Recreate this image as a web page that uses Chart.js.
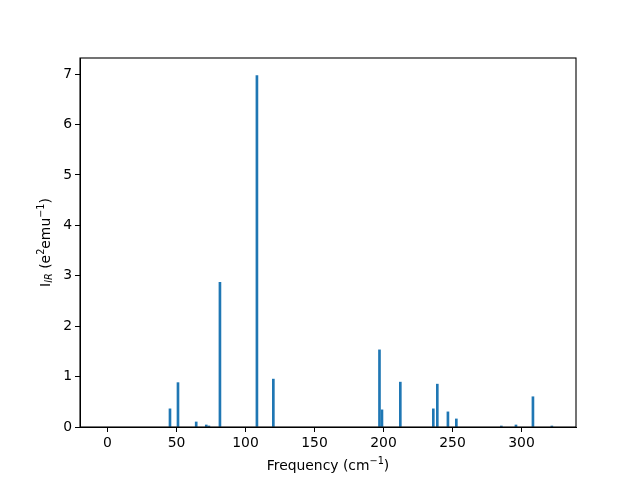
<!DOCTYPE html>
<html>
<head>
<meta charset="utf-8">
<script src="https://cdn.jsdelivr.net/npm/chart.js@4/dist/chart.umd.min.js"></script>
<style>
html,body{margin:0;padding:0;background:#fff;}
#wrap{width:640px;height:480px;}
</style>
</head>
<body>
<div id="wrap"><canvas id="c" width="640" height="480"></canvas></div>
<script>
const frequencies = [45.3, 51.1, 64.3, 71.6, 73.5, 81.5, 108.3, 120.2, 197.1, 198.9, 212.2, 236.1, 239.0, 246.7, 252.8, 285.4, 296.0, 308.3, 322.0];
const intensities = [0.36, 0.88, 0.10, 0.04, 0.02, 2.87, 6.97, 0.95, 1.53, 0.34, 0.89, 0.36, 0.85, 0.30, 0.16, 0.02, 0.04, 0.60, 0.02];

const FONT = 'DejaVu Sans';
const FS = 13.9;

const points = frequencies.map((f, i) => ({x: f, y: intensities[i]}));

function drawRich(ctx, parts, cx, cy, rot) {
  let w = 0;
  parts.forEach(p => {
    ctx.font = (p.it ? 'italic ' : '') + p.s + 'px "' + FONT + '"';
    p.w = ctx.measureText(p.t).width;
    w += p.w;
  });
  ctx.save();
  ctx.translate(cx, cy);
  if (rot) ctx.rotate(rot);
  ctx.fillStyle = '#000';
  ctx.textBaseline = 'middle';
  let x = -w / 2;
  parts.forEach(p => {
    ctx.font = (p.it ? 'italic ' : '') + p.s + 'px "' + FONT + '"';
    ctx.fillText(p.t, x, p.dy);
    x += p.w;
  });
  ctx.restore();
}

const boxPlugin = {
  id: 'box',
  afterDraw(chart) {
    const {ctx, chartArea: a} = chart;
    ctx.save();
    ctx.strokeStyle = '#000';
    ctx.lineWidth = 1.1;
    ctx.strokeRect(a.left, a.top, a.right - a.left, a.bottom - a.top);
    ctx.restore();
    const yParts = [
      {t: 'I', s: FS, dy: 0},
      {t: 'IR', s: FS * 0.7, dy: 3, it: true},
      {t: ' (e', s: FS, dy: 0},
      {t: '2', s: FS * 0.7, dy: -5},
      {t: 'emu', s: FS, dy: 0},
      {t: '\u22121', s: FS * 0.7, dy: -5},
      {t: ')', s: FS, dy: 0}
    ];
    drawRich(ctx, yParts, 46, (a.top + a.bottom) / 2, -Math.PI / 2);
    const xParts = [
      {t: 'Frequency (cm', s: FS, dy: 0},
      {t: '\u22121', s: FS * 0.7, dy: -5},
      {t: ')', s: FS, dy: 0}
    ];
    drawRich(ctx, xParts, (a.left + a.right) / 2, 466, 0);
  }
};

new Chart(document.getElementById('c'), {
  type: 'bar',
  data: {
    datasets: [{
      data: points,
      backgroundColor: '#1f77b4',
      borderWidth: 0,
      barThickness: 2,
      grouped: false
    }]
  },
  options: {
    responsive: false,
    animation: false,
    devicePixelRatio: 1,
    layout: {padding: {left: 0, right: 64, top: 58, bottom: 0}},
    plugins: {legend: {display: false}, tooltip: {enabled: false}},
    scales: {
      x: {
        type: 'linear',
        min: -19.9,
        max: 339.5,
        offset: false,
        grid: {display: true, offset: false, drawOnChartArea: false, drawTicks: true, tickLength: 5, color: '#000', lineWidth: 1},
        border: {display: true, color: '#000', width: 1},
        ticks: {stepSize: 50, includeBounds: false, padding: 3, color: '#000', font: {family: FONT, size: FS}, maxRotation: 0},
        afterFit(s) { s.height = 53; }
      },
      y: {
        min: 0,
        max: 7.32,
        grid: {display: true, offset: false, drawOnChartArea: false, drawTicks: true, tickLength: 5, color: '#000', lineWidth: 1},
        border: {display: true, color: '#000', width: 1},
        ticks: {stepSize: 1, includeBounds: false, padding: 3, color: '#000', font: {family: FONT, size: FS}},
        afterFit(s) { s.width = 80; }
      }
    }
  },
  plugins: [boxPlugin]
});
</script>
</body>
</html>
